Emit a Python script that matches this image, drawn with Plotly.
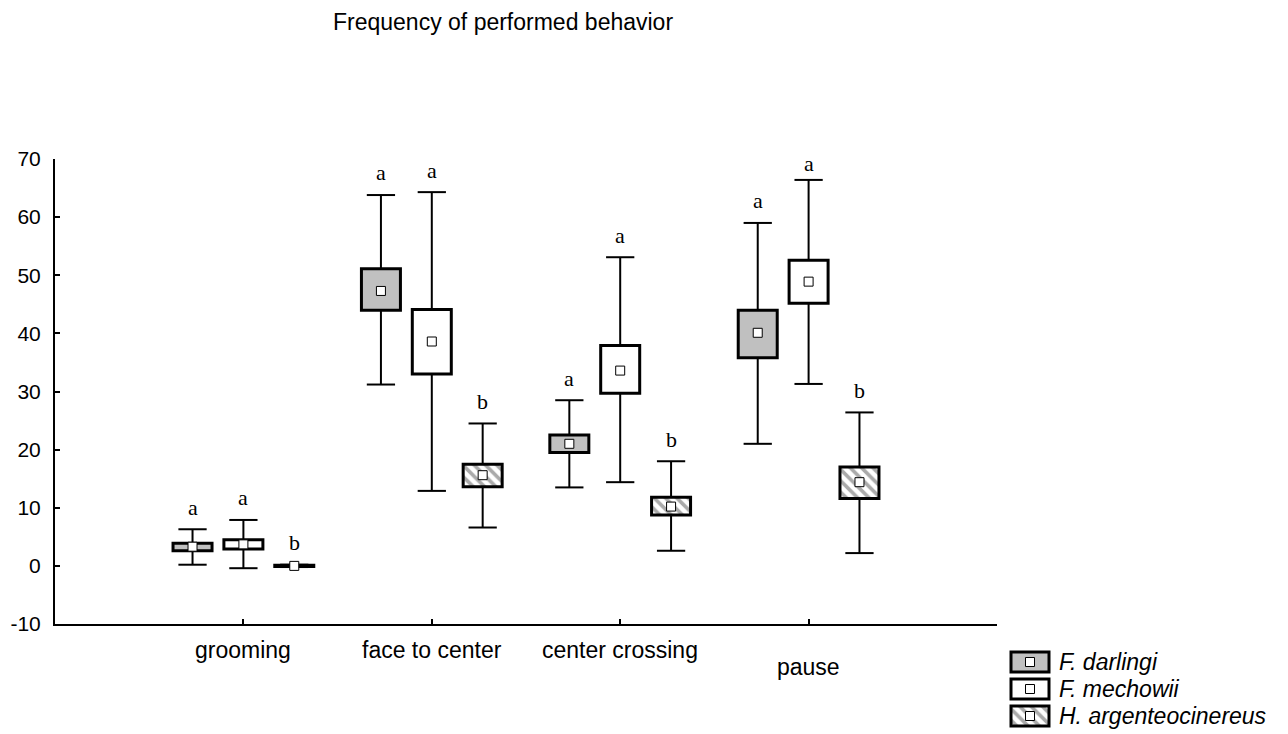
import plotly.graph_objects as go

# ---- data -------------------------------------------------------------
categories = ["grooming", "face to center", "center crossing", "pause"]
species = ["F. darlingi", "F. mechowii", "H. argenteocinereus"]

# per species, in category order: mean, box (lower/upper) and whiskers (lower/upper)
darlingi_mean = [3.3, 47.3, 21.0, 40.1]
darlingi_box_lo = [2.6, 44.0, 19.5, 35.8]
darlingi_box_hi = [3.9, 51.1, 22.5, 44.0]
darlingi_whisk_lo = [0.2, 31.2, 13.5, 21.0]
darlingi_whisk_hi = [6.3, 63.8, 28.5, 59.0]
darlingi_letters = ["a", "a", "a", "a"]

mechowii_mean = [3.7, 38.6, 33.6, 48.9]
mechowii_box_lo = [2.9, 33.0, 29.7, 45.2]
mechowii_box_hi = [4.5, 44.1, 37.9, 52.6]
mechowii_whisk_lo = [-0.4, 12.9, 14.4, 31.3]
mechowii_whisk_hi = [7.9, 64.3, 53.1, 66.4]
mechowii_letters = ["a", "a", "a", "a"]

argent_mean = [0.0, 15.6, 10.2, 14.4]
argent_box_lo = [-0.1, 13.6, 8.75, 11.6]
argent_box_hi = [0.1, 17.5, 11.8, 17.0]
argent_whisk_lo = [-0.2, 6.6, 2.6, 2.2]
argent_whisk_hi = [0.2, 24.5, 18.0, 26.4]
argent_letters = ["b", "b", "b", "b"]

y_ticks = [-10, 0, 10, 20, 30, 40, 50, 60, 70]

# ---- layout constants -------------------------------------------------
W, H = 1288, 734
PLOT_L, PLOT_R, PLOT_T, PLOT_B = 55, 997, 159, 624
OFFSETS = [-0.27, 0.0, 0.27]
BOX_W = 0.207
CAP_HALF = 0.075
LETTER_PAD = 3.8
LETTER_CEIL = 69.3

SANS = "Liberation Sans, Arial, sans-serif"
SERIF = "Liberation Serif, Times New Roman, serif"

styles = [
    dict(color="#c0c0c0", pattern=None),
    dict(color="white", pattern=None),
    dict(color="white", pattern=dict(shape="\\", fgcolor="#555555", bgcolor="white",
                                      size=8, solidity=0.45, fillmode="overlay")),
]

groups = [
    (darlingi_mean, darlingi_box_lo, darlingi_box_hi, darlingi_whisk_lo, darlingi_whisk_hi, darlingi_letters),
    (mechowii_mean, mechowii_box_lo, mechowii_box_hi, mechowii_whisk_lo, mechowii_whisk_hi, mechowii_letters),
    (argent_mean, argent_box_lo, argent_box_hi, argent_whisk_lo, argent_whisk_hi, argent_letters),
]

fig = go.Figure()
annotations = []

for k, (mean, blo, bhi, wlo, whi, letters) in enumerate(groups):
    xs = [i + 1 + OFFSETS[k] for i in range(len(categories))]
    st = styles[k]
    marker = dict(color=st["color"], line=dict(color="black", width=3))
    if st["pattern"] is not None:
        marker["pattern"] = st["pattern"]
    fig.add_trace(go.Bar(
        x=xs, y=[h - l for l, h in zip(blo, bhi)], base=blo, width=BOX_W,
        marker=marker, showlegend=False, name=species[k], hoverinfo="skip",
    ))

    # whiskers: stem below and above the box plus caps
    wx, wy = [], []
    for x, l, h, bl, bh in zip(xs, wlo, whi, blo, bhi):
        wx += [x, x, None, x, x, None, x - CAP_HALF, x + CAP_HALF, None, x - CAP_HALF, x + CAP_HALF, None]
        wy += [l, bl, None, bh, h, None, l, l, None, h, h, None]
    fig.add_trace(go.Scatter(
        x=wx, y=wy, mode="lines", line=dict(color="black", width=2),
        showlegend=False, hoverinfo="skip",
    ))

    # mean markers
    fig.add_trace(go.Scatter(
        x=xs, y=mean, mode="markers",
        marker=dict(symbol="square", size=9, color="white", line=dict(color="black", width=1)),
        showlegend=False, name=species[k],
    ))

    # significance letters above the whiskers
    for x, h, t in zip(xs, whi, letters):
        annotations.append(dict(
            x=x, y=min(h + LETTER_PAD, LETTER_CEIL), xref="x", yref="y", text=t,
            showarrow=False, xanchor="center", yanchor="middle",
            font=dict(family=SERIF, size=22, color="black"),
        ))

# ---- legend drawn on its own small axes -------------------------------
LEG_X0, LEG_X1 = 1011, 1049
LEG_ROW0, LEG_STEP = 662, 27
pad_x = (LEG_X1 - LEG_X0) * 0.1
leg_top = LEG_ROW0 - LEG_STEP / 2
leg_bot = LEG_ROW0 + LEG_STEP * 2.5

for k, name in enumerate(species):
    st = styles[k]
    marker = dict(color=st["color"], line=dict(color="black", width=3))
    if st["pattern"] is not None:
        marker["pattern"] = st["pattern"]
    fig.add_trace(go.Bar(
        x=[1], y=[k], base=0, orientation="h", width=0.74, marker=marker,
        xaxis="x2", yaxis="y2", showlegend=False, hoverinfo="skip",
    ))
    fig.add_trace(go.Scatter(
        x=[0.5], y=[k], mode="markers", xaxis="x2", yaxis="y2",
        marker=dict(symbol="square", size=9, color="white", line=dict(color="black", width=1)),
        showlegend=False, hoverinfo="skip",
    ))
    annotations.append(dict(
        x=1, y=k, xref="x2", yref="y2", text=name, showarrow=False,
        xanchor="left", yanchor="middle", xshift=8,
        font=dict(family=SANS, size=23, color="black", style="italic"),
    ))

# ---- category labels and title ----------------------------------------
for i, c in enumerate(categories):
    annotations.append(dict(
        x=i + 1, y=-10, xref="x", yref="y", text=c, showarrow=False,
        xanchor="center", yanchor="middle", yshift=-43 if c == "pause" else -26,
        font=dict(family=SANS, size=23, color="black"),
    ))

annotations.append(dict(
    x=331 / W, y=1 - 22 / H, xref="paper", yref="paper",
    text="Frequency of performed behavior", showarrow=False,
    xanchor="left", yanchor="middle",
    font=dict(family=SANS, size=23, color="black"),
))

fig.update_layout(
    width=W, height=H, autosize=False,
    margin=dict(l=0, r=0, t=0, b=0),
    paper_bgcolor="white", plot_bgcolor="rgba(0,0,0,0)",
    template="none", barmode="overlay", showlegend=False,
    annotations=annotations,
    xaxis=dict(
        domain=[PLOT_L / W, PLOT_R / W], range=[0, 5],
        showline=True, linecolor="black", linewidth=2,
        ticks="inside", ticklen=5, tickwidth=1.5, tickcolor="black",
        tickvals=[1, 2, 3, 4, 5], showticklabels=False,
        showgrid=False, zeroline=False, fixedrange=True,
    ),
    yaxis=dict(
        domain=[1 - PLOT_B / H, 1 - PLOT_T / H], range=[-10, 70],
        showline=True, linecolor="black", linewidth=2,
        ticks="inside", ticklen=5, tickwidth=1.5, tickcolor="black",
        tickvals=y_ticks, ticktext=[str(v) for v in y_ticks],
        tickfont=dict(family=SANS, size=21, color="black"), ticklabelstandoff=8,
        showgrid=False, zeroline=False, fixedrange=True,
    ),
    xaxis2=dict(
        domain=[(LEG_X0 - pad_x) / W, (LEG_X1 + pad_x) / W], range=[-0.1, 1.1],
        visible=False, anchor="y2", fixedrange=True,
    ),
    yaxis2=dict(
        domain=[1 - leg_bot / H, 1 - leg_top / H], range=[2.5, -0.5],
        visible=False, anchor="x2", fixedrange=True,
    ),
)

fig.write_html("out.html", config={"displayModeBar": False})
